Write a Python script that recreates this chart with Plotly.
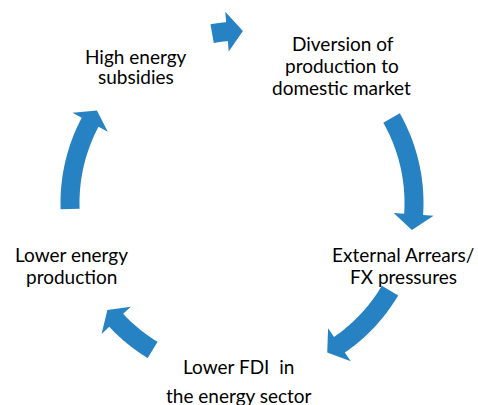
import numpy as np
import plotly.graph_objects as go

# cycle geometry (pixel space of the 478x405 canvas)
center_x, center_y = 242, 203
radius = 172
body_half = 9.5
head_half = 20

# arrows: tail angle, head base angle, tip angle (degrees, clockwise travel)
arrow_tail = [100, 29.6, -30.6, -121.3, 182]
arrow_base = [95, -3.8, -55.5, -137, 152]
arrow_tip = [89.7, -9, -60.3, -141.5, 147.5]

# label lines and their baselines
label_text = [
    "High energy", "subsidies",
    "Diversion of", "production to", "domestic market",
    "External Arrears/", "FX pressures",
    "Lower FDI  in", "the energy sector",
    "Lower energy", "production",
]
label_x = [136, 136, 343, 342, 341, 403, 403, 238, 239, 71, 71]
label_base = [62, 82, 49, 71, 93, 260, 282, 372, 401, 260, 282]

arrow_color = "#2782c4"


def pt(r, deg):
    a = np.radians(deg)
    return center_x + r * np.cos(a), center_y - r * np.sin(a)


def arrow_path(tail, base, tip):
    outer = [pt(radius + body_half, a) for a in np.linspace(tail, base, 30)]
    inner = [pt(radius - body_half, a) for a in np.linspace(base, tail, 30)]
    head = [pt(radius + head_half, base), pt(radius, tip), pt(radius - head_half, base)]
    pts = outer + head + inner
    return "M " + " L ".join(f"{x:.2f},{y:.2f}" for x, y in pts) + " Z"


fig = go.Figure()

shapes = []
for t, b, p in zip(arrow_tail, arrow_base, arrow_tip):
    shapes.append(dict(
        type="path", path=arrow_path(t, b, p),
        xref="x", yref="y",
        fillcolor=arrow_color, line=dict(width=0),
    ))

font_size = 19
annotations = []
for txt, x, yb in zip(label_text, label_x, label_base):
    annotations.append(dict(
        x=x, y=yb - 0.3 * font_size, xref="x", yref="y", text=txt, showarrow=False,
        font=dict(family="Lato, Open Sans, sans-serif", size=font_size, color="#000000"),
        align="center", xanchor="center", yanchor="middle",
    ))

fig.update_layout(
    width=478, height=405,
    margin=dict(l=0, r=0, t=0, b=0),
    paper_bgcolor="white", plot_bgcolor="white",
    shapes=shapes, annotations=annotations,
    xaxis=dict(range=[0, 478], visible=False, fixedrange=True),
    yaxis=dict(range=[405, 0], visible=False, fixedrange=True),
    showlegend=False,
)

# drop the default page margin so the figure sits flush in the window
fig.write_html(
    "out.html",
    config={"displayModeBar": False},
    post_script="document.body.style.margin='0';document.body.style.overflow='hidden';",
)
